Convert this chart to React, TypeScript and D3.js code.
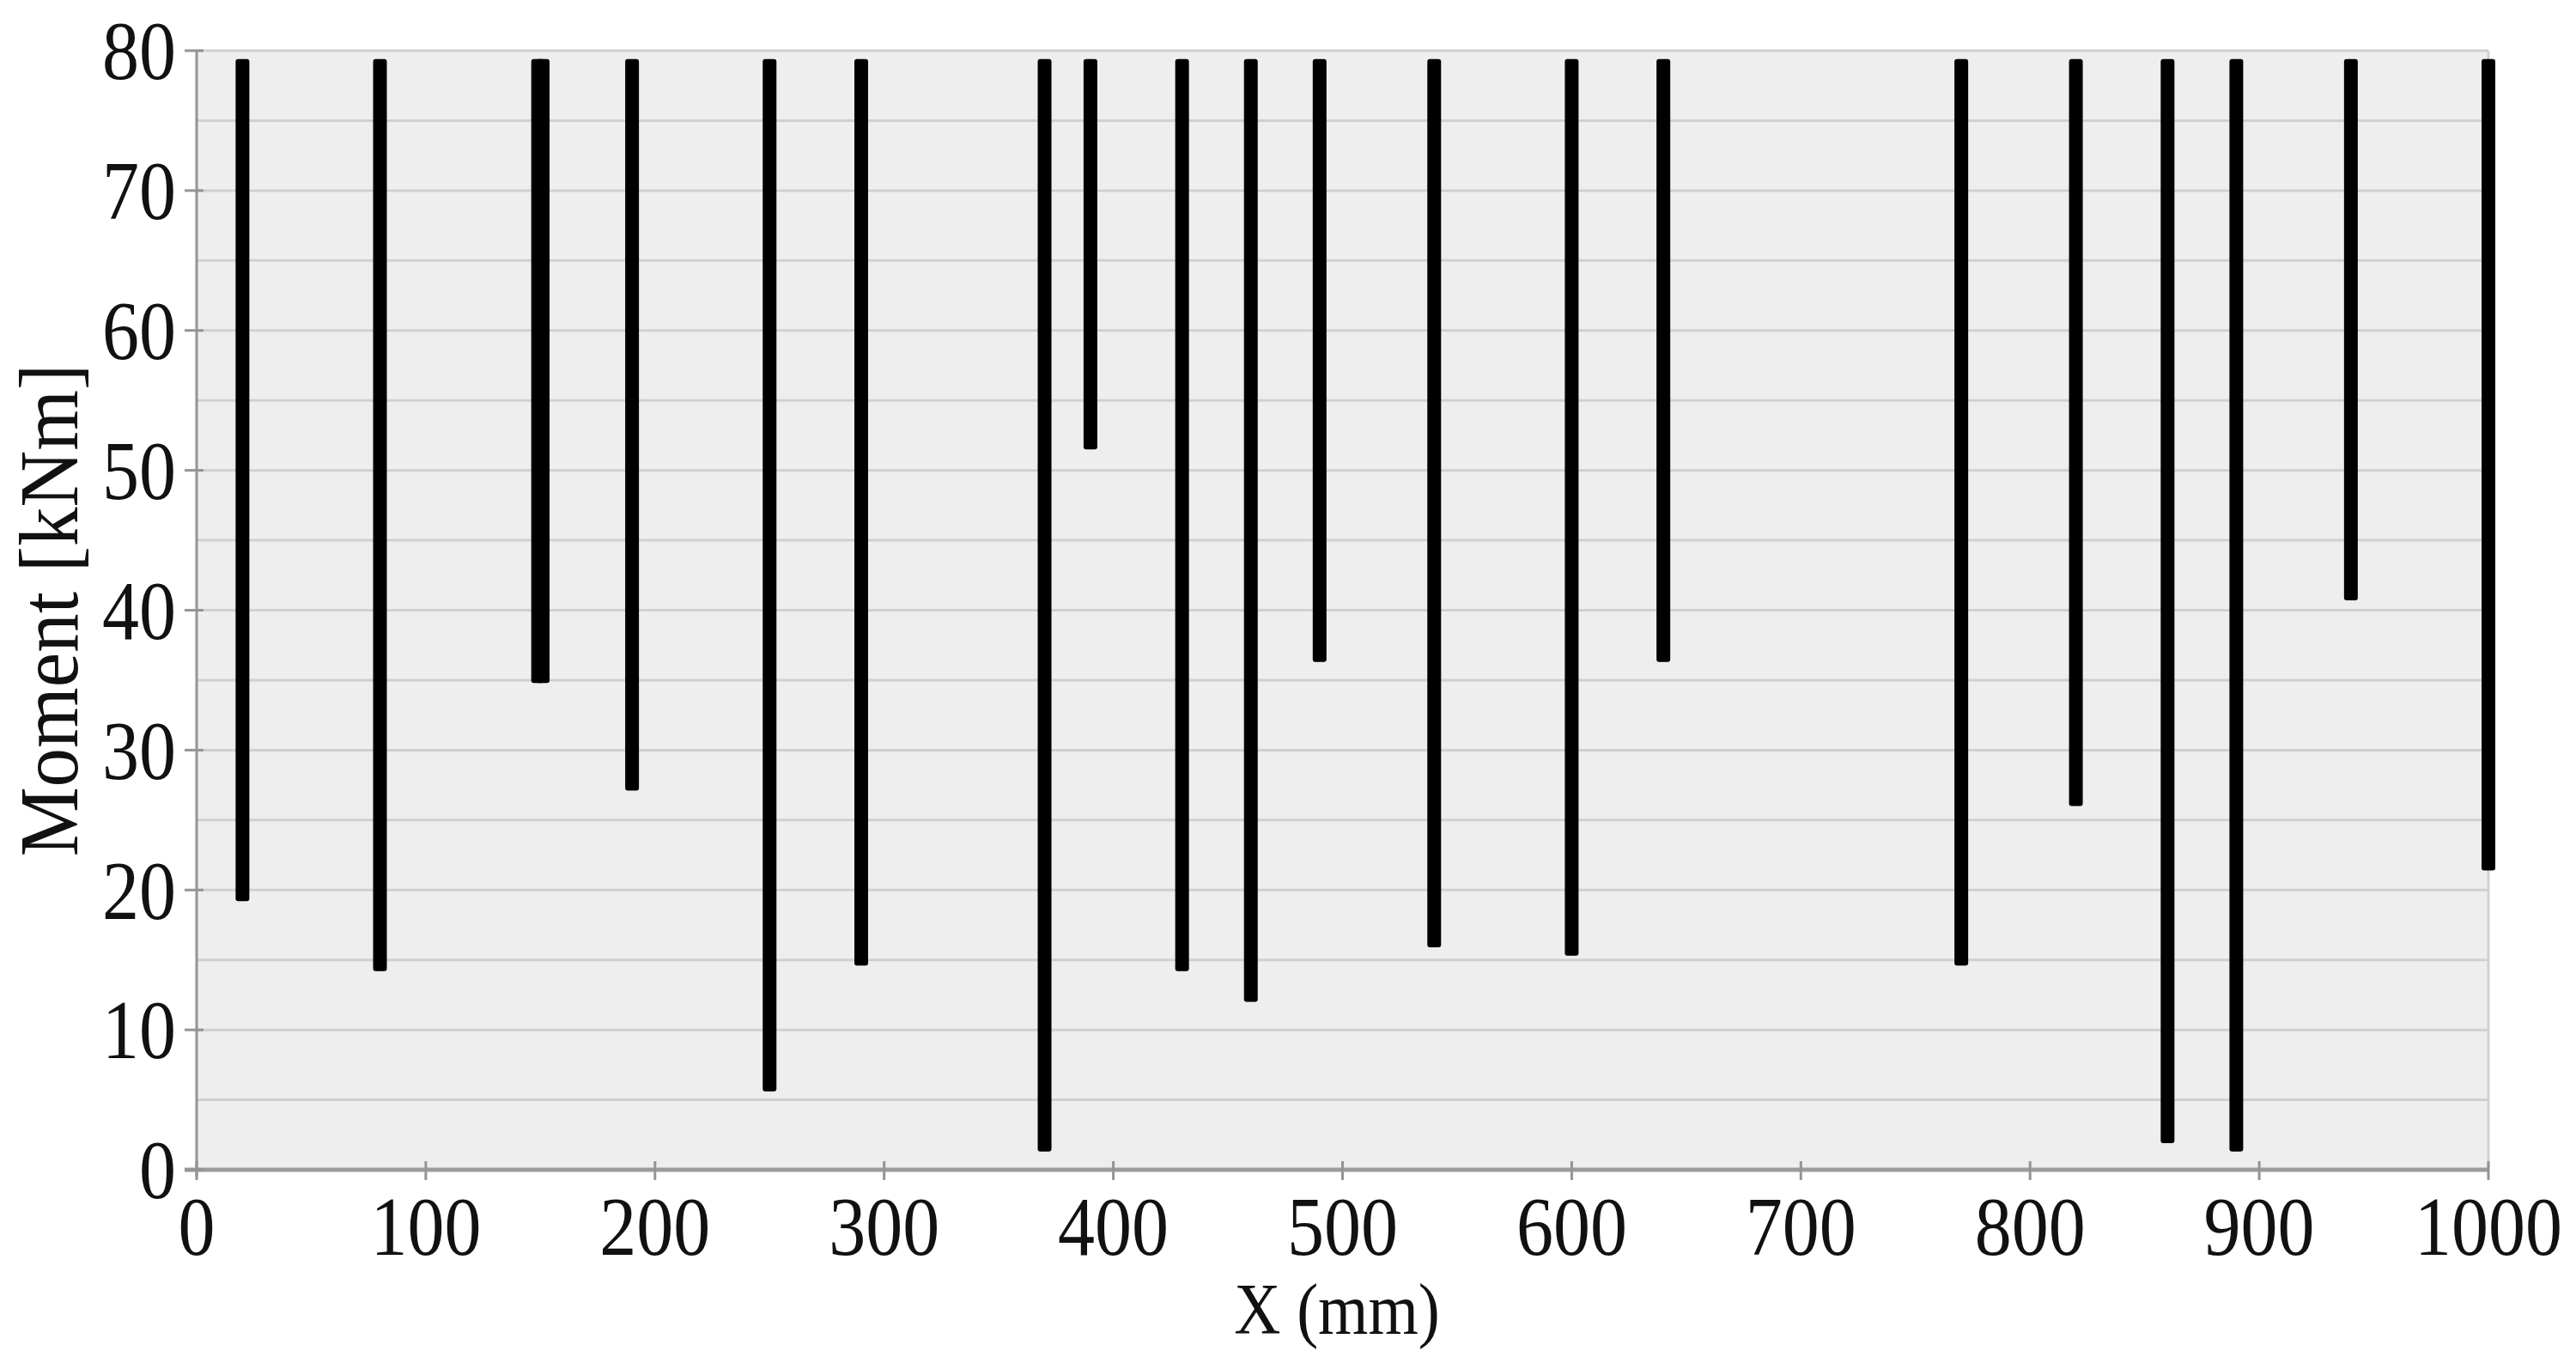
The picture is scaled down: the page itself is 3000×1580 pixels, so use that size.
import React from "react";
import * as d3 from "d3";

// Data
const positions = [20, 80, 149, 151, 190, 250, 290, 370, 390, 430, 460, 490, 540, 600, 640, 770, 820, 860, 890, 940, 1000];
const minMoments = [19.2, 14.2, 34.8, 34.8, 27.1, 5.6, 14.6, 1.3, 51.5, 14.2, 12.0, 36.3, 15.9, 15.3, 36.3, 14.6, 26.0, 1.9, 1.3, 40.7, 21.4];
const maxMoments = [79.4, 79.4, 79.4, 79.4, 79.4, 79.4, 79.4, 79.4, 79.4, 79.4, 79.4, 79.4, 79.4, 79.4, 79.4, 79.4, 79.4, 79.4, 79.4, 79.4, 79.4];
const xTicks = [0, 100, 200, 300, 400, 500, 600, 700, 800, 900, 1000];
const yTicks = [0, 10, 20, 30, 40, 50, 60, 70, 80];
const yGrid = [5, 10, 15, 20, 25, 30, 35, 40, 45, 50, 55, 60, 65, 70, 75, 80];
const xLabel = "X (mm)";
const yLabel = "Moment [kNm]";

const W = 3000;
const H = 1580;
const left = 229;
const right = 2898;
const top = 59;
const bottom = 1362;
const font = "'Liberation Serif', 'Times New Roman', serif";
const stretch = 1.14;

export default function App() {
  const x = d3.scaleLinear().domain([0, 1000]).range([left, right]);
  const y = d3.scaleLinear().domain([0, 80]).range([bottom, top]);
  const barW = 16;

  return (
    <svg
      width={W}
      height={H}
      viewBox={`0 0 ${W} ${H}`}
      style={{ position: "absolute", left: 0, top: 0, background: "#fff" }}
    >
      <rect x={left} y={top} width={right - left} height={bottom - top} fill="#efeeef" />
      {yGrid.map((v) => (
        <line key={"g" + v} x1={left} x2={right} y1={y(v)} y2={y(v)} stroke="#d0d0d2" strokeWidth={3} />
      ))}
      <line x1={right} x2={right} y1={top} y2={bottom} stroke="#d0d0d2" strokeWidth={3} />
      {/* axes */}
      <line x1={left} x2={left} y1={top} y2={bottom + 8} stroke="#949496" strokeWidth={3} />
      <line x1={left - 14} x2={right} y1={bottom} y2={bottom} stroke="#9c9c9e" strokeWidth={5} />
      {yTicks.map((v) => (
        <g key={"yt" + v}>
          <line x1={left - 14} x2={left + 8} y1={y(v)} y2={y(v)} stroke="#949496" strokeWidth={3} />
          <text
            transform={`translate(${left - 24}, ${y(v)}) scale(1, ${stretch})`}
            dy="0.34em"
            textAnchor="end"
            fontFamily={font}
            fontSize={86}
            fill="#111"
          >
            {v}
          </text>
        </g>
      ))}
      {xTicks.map((v) => (
        <g key={"xt" + v}>
          <line x1={x(v)} x2={x(v)} y1={bottom - 10} y2={bottom + 12} stroke="#949496" strokeWidth={3} />
          <text
            transform={`translate(${x(v)}, 1461) scale(1, ${stretch})`}
            textAnchor="middle"
            fontFamily={font}
            fontSize={86}
            fill="#111"
          >
            {v}
          </text>
        </g>
      ))}
      {/* bars */}
      {positions.map((p, i) => (
        <rect
          key={"b" + i}
          x={x(p) - barW / 2}
          y={y(maxMoments[i])}
          width={barW}
          height={y(minMoments[i]) - y(maxMoments[i])}
          rx={3}
          fill="#000"
        />
      ))}
      <text
        transform={`translate(1557, 1553) scale(1, ${stretch})`}
        textAnchor="middle"
        fontFamily={font}
        fontSize={75}
        fill="#111"
      >
        {xLabel}
      </text>
      <text
        transform={`translate(57, ${(top + bottom) / 2}) rotate(-90) scale(1, 1.08)`}
        dy="0.34em"
        textAnchor="middle"
        fontFamily={font}
        fontSize={91}
        fill="#111"
      >
        {yLabel}
      </text>
    </svg>
  );
}
